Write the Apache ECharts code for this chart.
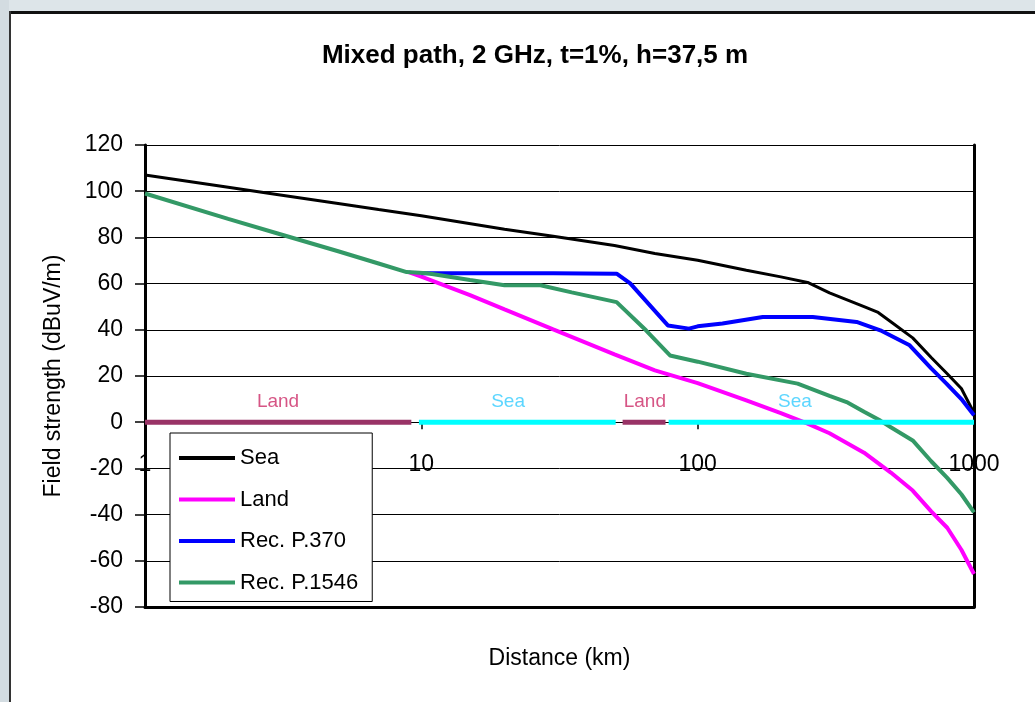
<!DOCTYPE html>
<html>
<head>
<meta charset="utf-8">
<title>Mixed path, 2 GHz</title>
<script src="https://cdn.jsdelivr.net/npm/echarts@6/dist/echarts.min.js"></script>
<style>
  html, body { margin: 0; padding: 0; background: #fff; }
  #chart { width: 1035px; height: 702px; }
</style>
</head>
<body>
<div id="chart"></div>
<script>
// 曲线数据（距离 km / 场强 dBuV/m）
const distSea = [1, 2, 3, 5, 7, 10, 20, 30, 50, 70, 100, 150, 200, 250, 300, 400, 450, 500, 600, 700, 800, 900, 1000];
const fieldSea = [107, 101.7, 98.6, 94.7, 92.1, 89.4, 83.5, 80.5, 76.5, 73, 70.1, 65.8, 62.9, 60.5, 56, 50, 47.5, 43.5, 36.5, 28, 21, 14.6, 4];

const distLand = [9, 10, 15, 20, 30, 50, 70, 100, 150, 200, 250, 300, 400, 500, 600, 700, 800, 900, 1000];
const fieldLand = [65, 63, 55, 48.8, 40.2, 29.4, 22.4, 16.9, 9.4, 3.9, -0.6, -4.8, -13.2, -21.8, -29.6, -38.6, -45.7, -55.2, -65.7];

const distP370 = [10, 20, 30, 50.9, 57, 78, 93, 100, 123, 172, 261, 376, 458, 585, 700, 795, 900, 1000];
const fieldP370 = [64.5, 64.5, 64.5, 64.3, 60.1, 41.9, 40.5, 41.5, 42.7, 45.5, 45.5, 43.4, 39.8, 33.3, 23.3, 16.7, 10, 3];

const distP1546 = [1, 2, 3, 5, 7, 8.85, 10.5, 15, 20, 27, 35, 50.9, 65, 79.4, 100, 150, 230, 300, 346, 400, 458, 500, 600, 700, 800, 900, 1000];
const fieldP1546 = [99, 88, 81.8, 74, 68.7, 65, 64.5, 61.6, 59.3, 59.3, 56.2, 52, 39.8, 28.9, 26.2, 21, 16.7, 11.4, 8.7, 4.5, 0.7, -2.2, -7.9, -16.9, -24.1, -31.2, -39];

// 路径分段（陆地 / 海面）
const zoneType = ['Land', 'Sea', 'Land', 'Sea'];
const zoneStart = [1, 9.8, 53.5, 78.5];
const zoneEnd = [9.2, 50.5, 76.5, 1000];
const zoneLabelDist = [3.03, 20.6, 64.4, 225];
const zoneLabelLevel = 9;

// 坐标轴刻度
const xTickLabels = ['1', '10', '100', '1000'];
const yMin = -80, yMax = 120, yStep = 20;

const FONT = 'Arial, "Liberation Sans", sans-serif';
const zoneColor = { Land: '#993366', Sea: '#00ffff' };
const zoneTextColor = { Land: '#cc2a66', Sea: '#33ccff' };

// 绘图区
const GRID = { left: 145, right: 61, top: 145, bottom: 95 };
const gridHeight = 702 - GRID.top - GRID.bottom;
// x 轴放在 y=0 处
const xAxisShift = -gridHeight * (0 - yMin) / (yMax - yMin);

function pairs(xs, ys) {
  return xs.map(function (x, i) { return [x, ys[i]]; });
}

var curveSeries = [
  { name: 'Sea', color: '#000000', width: 3, data: pairs(distSea, fieldSea) },
  { name: 'Land', color: '#ff00ff', width: 4, data: pairs(distLand, fieldLand) },
  { name: 'Rec. P.370', color: '#0000ff', width: 4, data: pairs(distP370, fieldP370) },
  { name: 'Rec. P.1546', color: '#339966', width: 4, data: pairs(distP1546, fieldP1546) }
].map(function (s) {
  return {
    type: 'line', name: s.name, data: s.data,
    showSymbol: false, symbol: 'none', smooth: false,
    lineStyle: { color: s.color, width: s.width },
    itemStyle: { color: s.color },
    z: 3
  };
});

var zoneSeries = zoneType.map(function (t, i) {
  return {
    type: 'line', name: 'zone' + i,
    data: [[zoneStart[i], 0], [zoneEnd[i], 0]],
    showSymbol: false, symbol: 'none',
    lineStyle: { color: zoneColor[t], width: 5 },
    z: 4, silent: true
  };
});

var zoneLabelSeries = {
  type: 'scatter', name: 'zoneLabels', symbolSize: 0, silent: true, z: 5,
  data: zoneType.map(function (t, i) {
    return {
      value: [zoneLabelDist[i], zoneLabelLevel], name: t,
      label: { color: zoneTextColor[t] }
    };
  }),
  label: {
    show: true, position: 'inside', formatter: '{b}',
    fontFamily: FONT, fontSize: 19
  }
};

var myChart = echarts.init(document.getElementById('chart'), null, { renderer: 'canvas' });

myChart.setOption({
  animation: false,
  backgroundColor: '#ffffff',
  textStyle: { fontFamily: FONT, color: '#000' },
  graphic: [
    { type: 'rect', shape: { x: 0, y: 0, width: 1035, height: 11 }, style: { fill: '#dde5e9' }, silent: true },
    { type: 'rect', shape: { x: 0, y: 0, width: 9, height: 702 }, style: { fill: '#d3dce1' }, silent: true },
    { type: 'rect', shape: { x: 9, y: 11, width: 1026, height: 3 }, style: { fill: '#111' }, silent: true },
    { type: 'rect', shape: { x: 9, y: 11, width: 2, height: 691 }, style: { fill: '#333' }, silent: true }
  ],
  title: {
    text: 'Mixed path, 2 GHz, t=1%, h=37,5 m',
    left: 530, top: 38, textAlign: 'center',
    textStyle: { fontFamily: FONT, fontSize: 26, fontWeight: 'bold', color: '#000' }
  },
  legend: {
    orient: 'vertical',
    left: 170, top: 433,
    padding: [13, 14, 7, 9],
    backgroundColor: '#ffffff',
    borderColor: '#000', borderWidth: 1,
    icon: 'rect', itemWidth: 56, itemHeight: 4, itemGap: 17.5,
    data: ['Sea', 'Land', 'Rec. P.370', 'Rec. P.1546'],
    textStyle: { fontFamily: FONT, fontSize: 22, lineHeight: 24, color: '#000' },
    selectedMode: false
  },
  grid: { left: GRID.left, right: GRID.right, top: GRID.top, bottom: GRID.bottom, containLabel: false },
  xAxis: [
    {
      type: 'log', logBase: 10, min: 1, max: 1000,
      position: 'bottom', offset: xAxisShift,
      axisLine: { show: true, onZero: false, lineStyle: { color: '#000', width: 1 } },
      axisTick: { show: true, length: 7, lineStyle: { color: '#000', width: 1.5 } },
      minorTick: { show: false },
      splitLine: { show: false },
      axisLabel: {
        margin: 31, fontFamily: FONT, fontSize: 23, color: '#000',
        formatter: function (v, i) { return xTickLabels[i] !== undefined ? xTickLabels[i] : ''; }
      }
    },
    {
      type: 'log', logBase: 10, min: 1, max: 1000,
      position: 'bottom',
      name: 'Distance (km)', nameLocation: 'middle', nameGap: 40,
      nameTextStyle: { fontFamily: FONT, fontSize: 23, color: '#000' },
      axisLine: { show: true, onZero: false, lineStyle: { color: '#000', width: 3 } },
      axisTick: { show: false },
      axisLabel: { show: false },
      splitLine: { show: false }
    }
  ],
  yAxis: [
    {
      type: 'value', min: yMin, max: yMax, interval: yStep,
      position: 'left',
      name: 'Field strength (dBuV/m)', nameLocation: 'middle', nameGap: 80, nameRotate: 90,
      nameTextStyle: { fontFamily: FONT, fontSize: 23, color: '#000' },
      axisLine: { show: true, onZero: false, lineStyle: { color: '#000', width: 3 } },
      axisTick: { show: true, length: 10, lineStyle: { color: '#000', width: 1.5 } },
      axisLabel: { margin: 22, fontFamily: FONT, fontSize: 23, color: '#000' },
      splitLine: { show: true, lineStyle: { color: '#000', width: 1 } }
    },
    {
      type: 'value', min: yMin, max: yMax, interval: yStep,
      position: 'right',
      axisLine: { show: true, onZero: false, lineStyle: { color: '#000', width: 3 } },
      axisTick: { show: false },
      axisLabel: { show: false },
      splitLine: { show: false }
    }
  ],
  series: curveSeries.concat(zoneSeries, [zoneLabelSeries])
});
</script>
</body>
</html>
